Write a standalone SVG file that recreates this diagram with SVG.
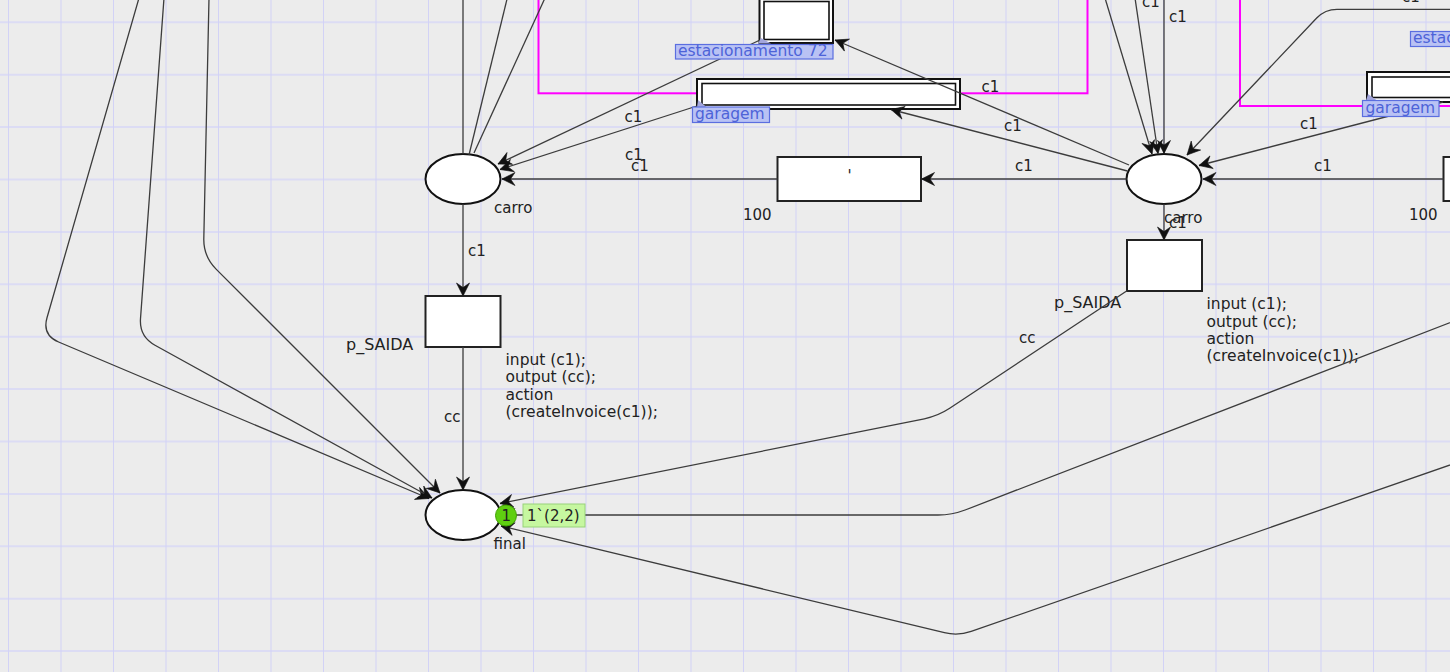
<svg xmlns="http://www.w3.org/2000/svg" width="1450" height="672" viewBox="0 0 1450 672">
<defs>
<style>
text{font-family:"DejaVu Sans","Liberation Sans",sans-serif;fill:#222}
.lbl{font-size:15px}
.ins{font-size:15.5px}
.nm{font-size:16px}
.arc{fill:none;stroke:#3c3c3c;stroke-width:1.3}
.place{fill:#fff;stroke:#111;stroke-width:2}
.trans{fill:#fff;stroke:#222;stroke-width:2}
.sub{fill:#fff;stroke:#111;stroke-width:2}
.subin{fill:#fff;stroke:#111;stroke-width:1.6}
.tag{fill:#b9c2f4;stroke:#5b6ee0;stroke-width:1.2}
.tagtxt{font-size:15.5px;fill:#4d63d8}
.tab{fill:#a3a6dc}
.region{fill:none;stroke:#ff00ff;stroke-width:2}
</style>
<marker id="ah" viewBox="-15 -8 16 16" refX="0" refY="0" markerWidth="16" markerHeight="16" orient="auto" markerUnits="userSpaceOnUse">
<path d="M0,0 L-13,-6.5 L-8.5,0 L-13,6.5 Z" fill="#111" stroke="#111" stroke-width="0.6" stroke-linejoin="miter"/>
</marker>
</defs>
<rect x="0" y="0" width="1450" height="672" fill="#ececec"/>
<g id="grid">
<path stroke="#dcdcf4" stroke-width="2" fill="none" d="M0,22.3H1450M0,74.7H1450M0,127.1H1450M0,179.5H1450M0,231.9H1450M0,284.3H1450M0,336.7H1450M0,389.1H1450M0,441.5H1450M0,493.9H1450M0,546.3H1450M0,598.7H1450M0,651.1H1450"/>
<path stroke="#d2d2f6" stroke-width="1" fill="none" d="M8.5,0V672M61,0V672M113.5,0V672M166,0V672M218.5,0V672M271,0V672M323.5,0V672M376,0V672M428.5,0V672M481,0V672M533.5,0V672M586,0V672M638.5,0V672M691,0V672M743.5,0V672M796,0V672M848.5,0V672M901,0V672M953.5,0V672M1006,0V672M1058.5,0V672M1111,0V672M1163.5,0V672M1216,0V672M1268.5,0V672M1321,0V672M1373.5,0V672M1426,0V672"/>
</g>
<g id="regions">
<rect class="region" x="538.5" y="-10" width="549" height="103.3"/>
<rect class="region" x="1240" y="-10" width="300" height="116"/>
</g>
<g id="estacionamento72">
<rect class="sub" x="759.5" y="-3" width="73.5" height="46"/>
<rect class="subin" x="764" y="1.5" width="65" height="38"/>
</g>
<g id="garagem">
<rect class="sub" x="697" y="79" width="263" height="30"/>
<rect class="subin" x="702" y="83.5" width="253.5" height="21.5"/>
</g>
<g id="garagem2">
<rect class="sub" x="1367" y="72" width="150" height="30"/>
<rect class="subin" x="1372" y="77" width="140" height="20.5"/>
</g>
<g id="carro1">
<ellipse class="place" cx="463" cy="179" rx="37.5" ry="25"/>
<text class="lbl" x="494" y="213">carro</text>
</g>
<g id="carro2">
<ellipse class="place" cx="1164" cy="179" rx="37.5" ry="25"/>
<text class="lbl" x="1164" y="222.7">carro</text>
</g>
<g id="t100a">
<rect class="trans" x="777.5" y="157" width="143.5" height="44"/>
<text class="lbl" x="847.5" y="181">'</text>
<text class="lbl" x="743" y="220">100</text>
</g>
<g id="t100b">
<rect class="trans" x="1443.5" y="157" width="143.5" height="44"/>
<text class="lbl" x="1409" y="220">100</text>
</g>
<g id="p_SAIDA1">
<rect class="trans" x="425.5" y="296" width="75" height="51"/>
<text class="nm" x="346" y="349.5">p_SAIDA</text>
<text class="ins" x="505.5" y="365">input (c1);</text>
<text class="ins" x="505.5" y="382.3">output (cc);</text>
<text class="ins" x="505.5" y="399.5">action</text>
<text class="ins" x="505.5" y="416.8">(createInvoice(c1));</text>
</g>
<g id="p_SAIDA2">
<rect class="trans" x="1127" y="240" width="75" height="51"/>
<text class="nm" x="1054" y="308.3">p_SAIDA</text>
<text class="ins" x="1206.5" y="309.3">input (c1);</text>
<text class="ins" x="1206.5" y="326.7">output (cc);</text>
<text class="ins" x="1206.5" y="344">action</text>
<text class="ins" x="1206.5" y="361.3">(createInvoice(c1));</text>
</g>
<g id="final">
<ellipse class="place" cx="463" cy="515" rx="37.5" ry="25"/>
<text class="lbl" x="493.5" y="548.5">final</text>
</g>
<g id="connectors">
<path class="arc" d="M463,154 L463,-5"/>
<path class="arc" d="M469,155 L508,-5"/>
<path class="arc" d="M474,153 L545,-2"/>
<path class="arc" marker-end="url(#ah)" d="M760,40 L498,164"/>
<path class="arc" marker-end="url(#ah)" d="M697,106 L500,169.5"/>
<path class="arc" marker-end="url(#ah)" d="M777.5,179 L502,179"/>
<path class="arc" marker-end="url(#ah)" d="M1129,165 L835,40"/>
<path class="arc" marker-end="url(#ah)" d="M1127.5,171 L891,109.5"/>
<path class="arc" marker-end="url(#ah)" d="M1126.5,179 L921.5,179"/>
<path class="arc" marker-end="url(#ah)" d="M1105,-2 L1152,154"/>
<path class="arc" marker-end="url(#ah)" d="M1135,-2 L1158,153.5"/>
<path class="arc" marker-end="url(#ah)" d="M1164,-2 L1164,153.5"/>
<path class="arc" marker-end="url(#ah)" d="M1460,9.3 L1337,9.3 Q1325,9.3 1316.7,18 L1187,155"/>
<path class="arc" marker-end="url(#ah)" d="M1443,102 L1199,165.5"/>
<path class="arc" marker-end="url(#ah)" d="M1443.5,179 L1203,179"/>
<path class="arc" marker-end="url(#ah)" d="M1164,204 L1164,240"/>
<path class="arc" marker-end="url(#ah)" d="M463,204 L463,296"/>
<path class="arc" marker-end="url(#ah)" d="M463,347 L463,490"/>
<path class="arc" marker-end="url(#ah)" d="M1127,290.7 L949.7,408.3 Q938,416 924.3,418.8 L500,503.5"/>
<path class="arc" marker-end="url(#ah)" d="M1460,318.8 L965.1,510 Q952,515 938,515 L502,515"/>
<path class="arc" marker-end="url(#ah)" d="M1460,461.5 L971.2,631.4 Q958,636 944.4,632.7 L501,526"/>
<path class="arc" marker-end="url(#ah)" d="M139,-2 L47,317.7 Q42,335 58.6,342 L429,498.5"/>
<path class="arc" marker-end="url(#ah)" d="M164,-2 L140.5,318.6 Q139.2,336.5 155,345.2 L432,498"/>
<path class="arc" marker-end="url(#ah)" d="M209,-2 L203.8,238.4 Q203.4,256.4 216.1,269.1 L440,493"/>
<text class="lbl" x="1142" y="7">c1</text>
<text class="lbl" x="1169" y="22">c1</text>
<text class="lbl" x="1402" y="1.5">c1</text>
<text class="lbl" x="981.5" y="92">c1</text>
<text class="lbl" x="624.5" y="122">c1</text>
<text class="lbl" x="1004" y="131">c1</text>
<text class="lbl" x="625" y="160">c1</text>
<text class="lbl" x="631" y="171">c1</text>
<text class="lbl" x="1015" y="171">c1</text>
<text class="lbl" x="1300" y="128.5">c1</text>
<text class="lbl" x="1314" y="171">c1</text>
<text class="lbl" x="1169" y="228.3">c1</text>
<text class="lbl" x="468" y="256">c1</text>
<text class="lbl" x="444" y="421.7">cc</text>
<text class="lbl" x="1019" y="343">cc</text>
</g>
<g id="tags">
<polygon class="tab" points="761,38 771,43.5 758,43.5"/>
<rect class="tag" x="675.5" y="44.5" width="157.5" height="14.5"/>
<text class="tagtxt" x="678" y="56">estacionamento 72</text>
<polygon class="tab" points="698,100 707,107.5 697,107.5"/>
<rect class="tag" x="692.5" y="107" width="77" height="15.5"/>
<text class="tagtxt" x="695" y="119">garagem</text>
<rect class="tag" x="1410.5" y="31.5" width="160" height="15"/>
<text class="tagtxt" x="1413" y="43">estacionamento 72</text>
<polygon class="tab" points="1368,94 1377,100.5 1366,100.5"/>
<rect class="tag" x="1362.5" y="100.5" width="76.5" height="16"/>
<text class="tagtxt" x="1365.5" y="112.8">garagem</text>
</g>
<g id="marking">
<circle cx="506" cy="515.5" r="10.5" fill="#5fcf10" stroke="#3fa000" stroke-width="1"/>
<text class="lbl" x="501.5" y="521" fill="#222">1</text>
<rect x="523" y="504" width="62" height="23" fill="#c6f7a0" stroke="#98d27a" stroke-width="1"/>
<text class="lbl" x="527" y="521">1`(2,2)</text>
</g>
</svg>
